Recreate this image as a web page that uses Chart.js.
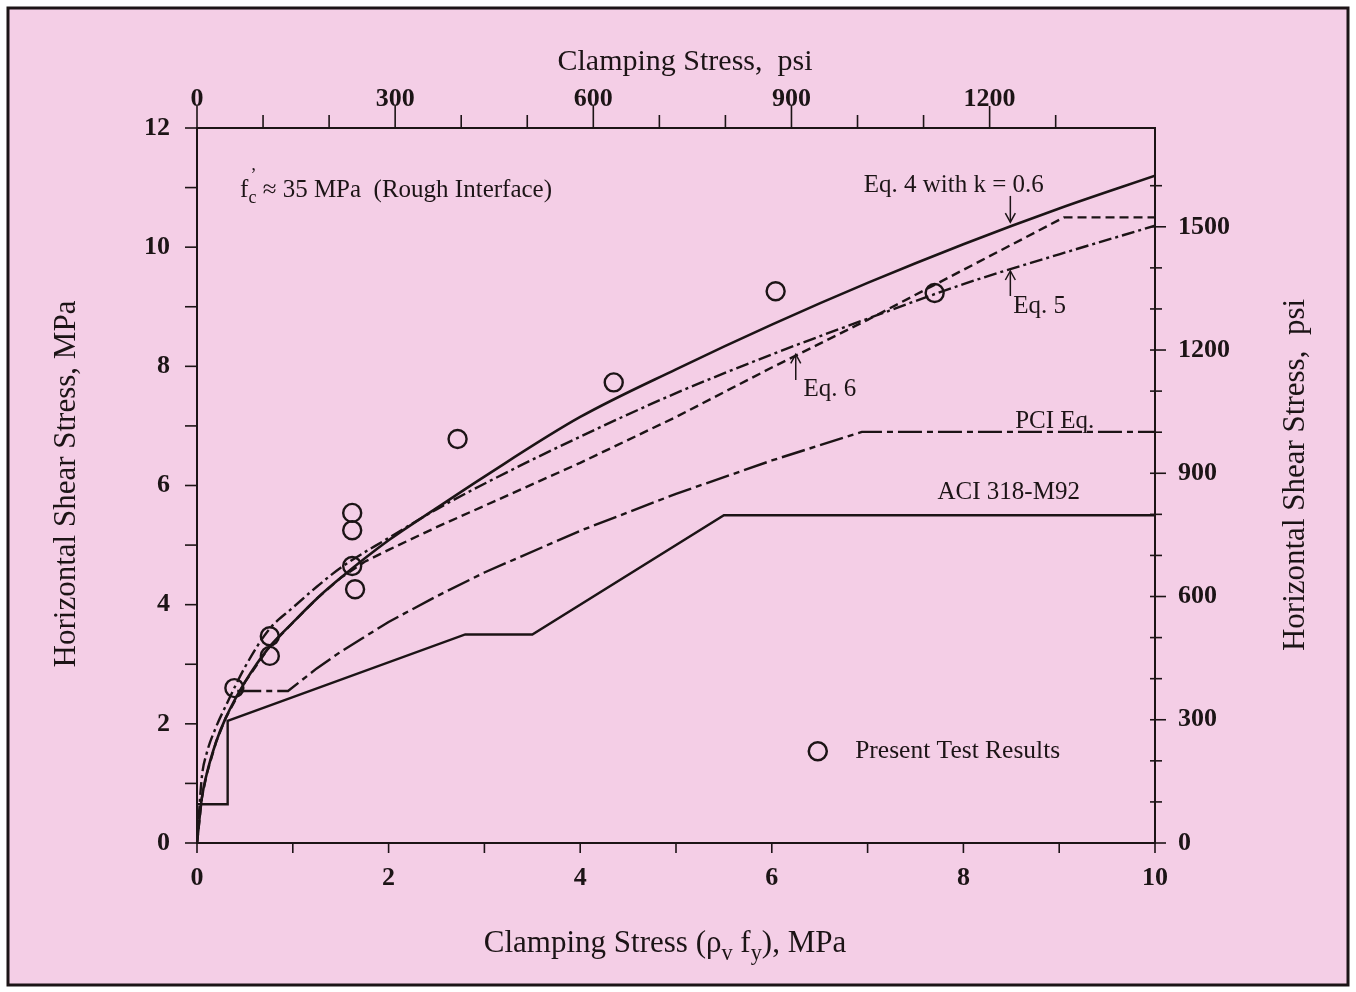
<!DOCTYPE html>
<html lang="en">
<head>
  <meta charset="UTF-8">
  <title>Horizontal Shear Stress vs Clamping Stress</title>
  <script src="https://cdn.jsdelivr.net/npm/chart.js"></script>
  <style>
    body { margin: 0; background: #fff; }
    #wrap { width: 1356px; height: 992px; }
  </style>
</head>
<body>
  <div id="wrap"><canvas id="shear"></canvas></div>

  <script>
    // Eq. 4 (k = 0.6) and Eq. 5, MPa
    const eqX = [0, 0.05, 0.1, 0.2, 0.3, 0.5, 0.75, 1, 1.25, 1.5, 2, 2.5, 3, 4, 5, 6, 7, 8, 9, 10];
    const eq4 = [0, 0.75, 1.15, 1.7, 2.1, 2.7, 3.28, 3.7, 4.1, 4.45, 5.08, 5.62, 6.15, 7.15, 7.95, 8.7, 9.4, 10.05, 10.65, 11.2];
    const eq5 = [0, 1.1, 1.5, 1.95, 2.3, 2.95, 3.58, 3.95, 4.3, 4.62, 5.12, 5.6, 6.03, 6.82, 7.55, 8.2, 8.8, 9.38, 9.88, 10.36];

    // Eq. 6 (capped at 10.5 MPa)
    const eq6X = [0, 0.05, 0.1, 0.2, 0.3, 0.5, 0.75, 1, 1.25, 1.5, 1.75, 2, 2.5, 3, 4, 5, 6, 7, 8, 9.05, 10];
    const eq6 = [0, 0.75, 1.15, 1.7, 2.1, 2.7, 3.28, 3.7, 4.1, 4.45, 4.72, 4.92, 5.3, 5.66, 6.38, 7.15, 7.98, 8.78, 9.62, 10.5, 10.5];

    // PCI Eq.
    const pciX = [0.42, 0.95, 1.25, 1.5, 2, 2.5, 3, 4, 5, 6, 6.94, 10];
    const pci = [2.55, 2.55, 2.93, 3.21, 3.71, 4.14, 4.54, 5.24, 5.86, 6.42, 6.9, 6.9];

    // ACI 318-M92
    const aciX = [0, 0.32, 0.32, 2.8, 3.5, 5.5, 10];
    const aci = [0.65, 0.65, 2.05, 3.5, 3.5, 5.5, 5.5];

    // present test results
    const testX = [0.39, 0.76, 0.76, 1.62, 1.62, 1.62, 1.65, 2.72, 4.35, 6.04, 7.70];
    const testY = [2.60, 3.47, 3.14, 5.54, 5.25, 4.65, 4.26, 6.78, 7.73, 9.26, 9.23];

    const MPA_TO_PSI = 145.038;
    const ink = '#1c1416';
    const serif = '"Liberation Serif", "Times New Roman", serif';

    const pts = (xs, ys) => xs.map((x, i) => ({ x: x, y: ys[i] }));

    function line(ctx, x1, y1, x2, y2) {
      ctx.beginPath(); ctx.moveTo(x1, y1); ctx.lineTo(x2, y2); ctx.stroke();
    }

    // text made of runs, some of them subscripts
    function runs(ctx, parts, x, y, size, align) {
      const w = parts.map(p => {
        ctx.font = (p.sub ? size * 0.72 : size) + 'px ' + serif;
        return ctx.measureText(p.t).width;
      });
      const total = w.reduce((a, b) => a + b, 0);
      let cx = align === 'center' ? x - total / 2 : x;
      ctx.textAlign = 'left';
      ctx.textBaseline = 'middle';
      parts.forEach((p, i) => {
        ctx.font = (p.sub ? size * 0.72 : size) + 'px ' + serif;
        ctx.fillText(p.t, cx, p.sub ? y + size * 0.32 : y);
        if (p.sup) ctx.fillText(p.sup, cx + 2, y - size * 0.55);
        cx += w[i];
      });
    }

    function arrow(ctx, x, yFrom, yTo) {
      line(ctx, x, yFrom, x, yTo);
      const d = yTo > yFrom ? -1 : 1;
      ctx.beginPath();
      ctx.moveTo(x - 5, yTo + d * 9); ctx.lineTo(x, yTo); ctx.lineTo(x + 5, yTo + d * 9);
      ctx.stroke();
    }

    function vtext(ctx, text, x, y, size) {
      ctx.save();
      ctx.translate(x, y);
      ctx.rotate(-Math.PI / 2);
      ctx.font = size + 'px ' + serif;
      ctx.textAlign = 'center';
      ctx.textBaseline = 'middle';
      ctx.fillText(text, 0, 0);
      ctx.restore();
    }

    const decor = {
      id: 'decor',
      beforeDraw(chart) {
        const c = chart.ctx;
        c.save();
        c.fillStyle = '#ffffff';
        c.fillRect(0, 0, chart.width, chart.height);
        c.fillStyle = '#f4cee6';
        c.fillRect(8, 8, 1340, 977);
        c.strokeStyle = ink;
        c.lineWidth = 3;
        c.strokeRect(8, 8, 1340, 977);
        c.restore();
      },
      afterDraw(chart) {
        const c = chart.ctx;
        const a = chart.chartArea;
        const sx = chart.scales.x, sy = chart.scales.y;
        const sx2 = chart.scales.x2, sy2 = chart.scales.y2;
        const X = v => sx.getPixelForValue(v);
        const Y = v => sy.getPixelForValue(v);
        c.save();
        c.strokeStyle = ink;
        c.fillStyle = ink;

        // frame
        c.lineWidth = 2;
        c.strokeRect(a.left, a.top, a.right - a.left, a.bottom - a.top);

        // tick marks
        c.lineWidth = 1.6;
        sx.ticks.forEach(t => { const p = X(t.value); line(c, p, a.bottom, p, a.bottom + 10); });
        sy.ticks.forEach(t => { const p = Y(t.value); line(c, a.left - 12, p, a.left, p); });
        sx2.ticks.forEach(t => {
          if (t.value % 100 !== 0) return;
          const p = sx2.getPixelForValue(t.value);
          line(c, p, a.top, p, a.top - (t.value % 300 === 0 ? 22 : 13));
        });
        sy2.ticks.forEach(t => {
          if (t.value % 100 !== 0) return;
          const p = sy2.getPixelForValue(t.value);
          line(c, a.right - 5, p, a.right + (t.value % 300 === 0 ? 11 : 7), p);
        });

        // axis titles
        const ts = 30;
        c.font = ts + 'px ' + serif;
        c.textAlign = 'center';
        c.textBaseline = 'middle';
        c.fillText('Clamping Stress,  psi', 685, 62);
        runs(c, [{ t: 'Clamping Stress (ρ' }, { t: 'v', sub: true }, { t: ' f' }, { t: 'y', sub: true }, { t: '), MPa' }],
          665, 944, 31, 'center');
        vtext(c, 'Horizontal Shear Stress, MPa', 67, 484, 31);
        vtext(c, 'Horizontal Shear Stress,  psi', 1296, 475, 31);

        // annotations
        const as = 25;
        runs(c, [{ t: 'f' }, { t: 'c', sub: true, sup: '\u2019' }, { t: ' \u2248 35 MPa  (Rough Interface)' }],
          X(0.45), Y(10.96), as, 'left');
        c.font = as + 'px ' + serif;
        c.textAlign = 'left';
        c.textBaseline = 'middle';
        c.fillText('Eq. 4 with k = 0.6', X(6.96), Y(11.04));
        c.fillText('Eq. 5', X(8.52), Y(9.0));
        c.fillText('Eq. 6', X(6.33), Y(7.62));
        c.fillText('PCI Eq.', X(8.54), Y(7.07));
        c.fillText('ACI 318-M92', X(7.73), Y(5.89));
        c.lineWidth = 1.5;
        arrow(c, X(8.49), Y(10.86), Y(10.42));
        arrow(c, X(8.49), Y(9.18), Y(9.6));
        arrow(c, X(6.25), Y(7.77), Y(8.2));

        // legend
        c.lineWidth = 2.5;
        c.beginPath(); c.arc(X(6.48), Y(1.54), 9, 0, Math.PI * 2); c.stroke();
        c.font = '25.5px ' + serif;
        c.fillText('Present Test Results', X(6.87), Y(1.54));
        c.restore();
      }
    };

    const tickFont = { family: serif, size: 26, weight: 'bold' };
    const hideGrid = { display: false, drawTicks: false };

    new Chart(document.getElementById('shear'), {
      type: 'scatter',
      data: {
        datasets: [
          { label: 'Eq. 4 with k = 0.6', data: pts(eqX, eq4), showLine: true, borderColor: ink, borderWidth: 2.6,
            pointRadius: 0, cubicInterpolationMode: 'monotone' },
          { label: 'Eq. 5', data: pts(eqX, eq5), showLine: true, borderColor: ink, borderWidth: 2.4,
            borderDash: [13, 4, 3, 4], pointRadius: 0, cubicInterpolationMode: 'monotone' },
          { label: 'Eq. 6', data: pts(eq6X, eq6), showLine: true, borderColor: ink, borderWidth: 2.4,
            borderDash: [9, 5], pointRadius: 0, tension: 0 },
          { label: 'PCI Eq.', data: pts(pciX, pci), showLine: true, borderColor: ink, borderWidth: 2.4,
            borderDash: [24, 5, 6, 5], pointRadius: 0 },
          { label: 'ACI 318-M92', data: pts(aciX, aci), showLine: true, borderColor: ink, borderWidth: 2.4,
            pointRadius: 0 },
          { label: 'Present Test Results', data: pts(testX, testY), showLine: false, pointRadius: 9,
            pointBorderWidth: 2.4, pointBorderColor: ink, pointBackgroundColor: 'rgba(0,0,0,0)' }
        ]
      },
      options: {
        responsive: true,
        maintainAspectRatio: false,
        animation: false,
        layout: { padding: 0 },
        plugins: { legend: { display: false }, tooltip: { enabled: false } },
        scales: {
          x: {
            type: 'linear', position: 'bottom', min: 0, max: 10,
            grid: hideGrid, border: { display: false },
            ticks: { stepSize: 1, autoSkip: false, maxRotation: 0, color: ink, font: tickFont, padding: 20,
              callback: v => (v % 2 === 0 ? v : '') },
            afterFit: s => { s.height = 149; }
          },
          x2: {
            type: 'linear', position: 'top', min: 0, max: 10 * MPA_TO_PSI,
            grid: hideGrid, border: { display: false },
            ticks: { stepSize: 100, autoSkip: false, maxRotation: 0, color: ink, font: tickFont, padding: 13,
              callback: v => (v % 300 === 0 ? v : '') },
            afterFit: s => { s.height = 128; }
          },
          y: {
            type: 'linear', position: 'left', min: 0, max: 12,
            grid: hideGrid, border: { display: false },
            ticks: { stepSize: 1, autoSkip: false, color: ink, font: tickFont, padding: 27,
              callback: v => (v % 2 === 0 ? v : '') },
            afterFit: s => { s.width = 197; }
          },
          y2: {
            type: 'linear', position: 'right', min: 0, max: 12 * MPA_TO_PSI,
            grid: hideGrid, border: { display: false },
            ticks: { stepSize: 100, autoSkip: false, color: ink, font: tickFont, padding: 23,
              callback: v => (v % 300 === 0 ? v : '') },
            afterFit: s => { s.width = 201; }
          }
        }
      },
      plugins: [decor]
    });
  </script>
</body>
</html>
